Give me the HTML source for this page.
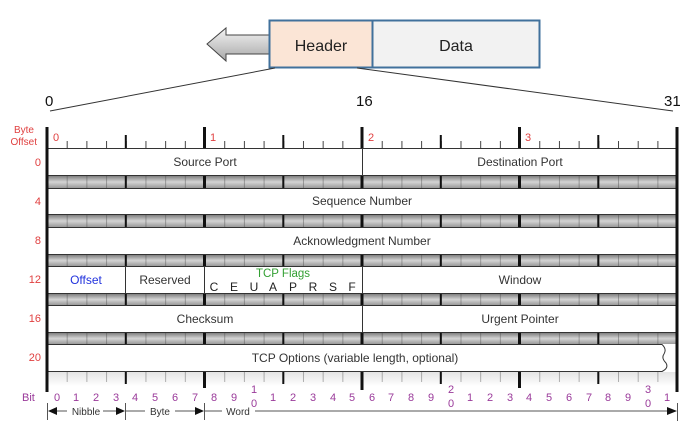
<!DOCTYPE html>
<html><head><meta charset="utf-8"><style>
html,body{margin:0;padding:0;background:#fff;}
svg{display:block;}
text{font-family:"Liberation Sans",sans-serif;}
</style></head><body>
<svg width="695" height="439" viewBox="0 0 695 439" xmlns="http://www.w3.org/2000/svg">
<defs>
<linearGradient id="band" x1="0" y1="0" x2="0" y2="1">
<stop offset="0" stop-color="#808080"/><stop offset="0.5" stop-color="#d4d4d4"/><stop offset="1" stop-color="#9a9a9a"/>
</linearGradient>
<linearGradient id="arr" x1="0" y1="0" x2="0" y2="1">
<stop offset="0" stop-color="#f4f4f4"/><stop offset="1" stop-color="#a8a8a8"/>
</linearGradient>
<linearGradient id="bot" x1="0" y1="0" x2="0" y2="1">
<stop offset="0" stop-color="#e4e4e4"/><stop offset="1" stop-color="#ffffff"/>
</linearGradient>
<pattern id="tk" x="47" y="0" width="19.69" height="20" patternUnits="userSpaceOnUse">
<rect x="0" y="0" width="1" height="20" fill="#444"/>
</pattern>
</defs>

<path d="M207,44 L226,28 L226,35 L270,35 L270,54 L226,54 L226,61 Z" fill="url(#arr)" stroke="#444" stroke-width="1"/>
<rect x="269.5" y="20.5" width="103" height="47" fill="#fbe5d6" stroke="#41719c" stroke-width="2"/>
<rect x="372.5" y="20.5" width="167" height="47" fill="#f2f2f2" stroke="#41719c" stroke-width="2"/>
<text x="321" y="51" font-size="16" text-anchor="middle" fill="#222">Header</text>
<text x="456" y="51" font-size="16" text-anchor="middle" fill="#222">Data</text>
<line x1="275" y1="68" x2="50" y2="111" stroke="#333" stroke-width="1"/>
<line x1="357" y1="68" x2="673" y2="111" stroke="#333" stroke-width="1"/>
<text x="45" y="106" font-size="15" fill="#111">0</text>
<text x="356" y="106" font-size="15" fill="#111">16</text>
<text x="664" y="106" font-size="15" fill="#111">31</text>

<text x="34" y="133" font-size="10" fill="#e04040" text-anchor="end">Byte</text>
<text x="37" y="145" font-size="10" fill="#e04040" text-anchor="end">Offset</text>
<g font-size="11" fill="#e04040" text-anchor="end">
<text x="41" y="166">0</text><text x="41" y="205">4</text><text x="41" y="244">8</text>
<text x="41" y="283">12</text><text x="41" y="322">16</text><text x="41" y="361">20</text>
</g>

<rect x="47" y="141" width="630" height="7" fill="url(#tk)"/>
<g fill="#111">
<rect x="124.8" y="135" width="2" height="13"/><rect x="282.3" y="135" width="2" height="13"/>
<rect x="439.8" y="135" width="2" height="13"/><rect x="597.3" y="135" width="2" height="13"/>
<rect x="203" y="127" width="3" height="21"/><rect x="360.5" y="127" width="3" height="21"/>
<rect x="518" y="127" width="3" height="21"/>
</g>
<g font-size="11" fill="#e04040">
<text x="53" y="141">0</text><text x="210" y="141">1</text><text x="368" y="141">2</text><text x="525" y="141">3</text>
</g>

<g>
<rect x="47" y="176" width="630" height="12" fill="url(#band)"/>
<rect x="47" y="215" width="630" height="12" fill="url(#band)"/>
<rect x="47" y="255" width="630" height="11" fill="url(#band)"/>
<rect x="47" y="294" width="630" height="11" fill="url(#band)"/>
<rect x="47" y="333" width="630" height="11" fill="url(#band)"/>
<rect x="47" y="372" width="630" height="14" fill="url(#bot)"/>
</g>
<g opacity="0.4">
<rect x="47" y="176" width="630" height="12" fill="url(#tk)"/>
<rect x="47" y="215" width="630" height="12" fill="url(#tk)"/>
<rect x="47" y="255" width="630" height="11" fill="url(#tk)"/>
<rect x="47" y="294" width="630" height="11" fill="url(#tk)"/>
<rect x="47" y="333" width="630" height="11" fill="url(#tk)"/>
<rect x="47" y="372" width="630" height="10" fill="url(#tk)"/>
</g>
<g fill="#111">
<path d="M124.8,176h2v12h-2zM282.3,176h2v12h-2zM439.8,176h2v12h-2zM597.3,176h2v12h-2z"/>
<path d="M124.8,215h2v12h-2zM282.3,215h2v12h-2zM439.8,215h2v12h-2zM597.3,215h2v12h-2z"/>
<path d="M124.8,255h2v11h-2zM282.3,255h2v11h-2zM439.8,255h2v11h-2zM597.3,255h2v11h-2z"/>
<path d="M124.8,294h2v11h-2zM282.3,294h2v11h-2zM439.8,294h2v11h-2zM597.3,294h2v11h-2z"/>
<path d="M124.8,333h2v11h-2zM282.3,333h2v11h-2zM439.8,333h2v11h-2zM597.3,333h2v11h-2z"/>
<path d="M124.8,372h2v12h-2zM282.3,372h2v12h-2zM439.8,372h2v12h-2zM597.3,372h2v12h-2z"/>
<path d="M203,176h3v12h-3zM360.5,176h3v12h-3zM518,176h3v12h-3z"/>
<path d="M203,215h3v12h-3zM360.5,215h3v12h-3zM518,215h3v12h-3z"/>
<path d="M203,255h3v11h-3zM360.5,255h3v11h-3zM518,255h3v11h-3z"/>
<path d="M203,294h3v11h-3zM360.5,294h3v11h-3zM518,294h3v11h-3z"/>
<path d="M203,333h3v11h-3zM360.5,333h3v11h-3zM518,333h3v11h-3z"/>
<path d="M203,372h3v16h-3zM360.5,372h3v18h-3zM518,372h3v16h-3z"/>
</g>

<g fill="#fff" stroke="#333" stroke-width="1">
<rect x="47.5" y="148.5" width="629" height="27"/>
<rect x="47.5" y="188.5" width="629" height="26"/>
<rect x="47.5" y="227.5" width="629" height="27"/>
<rect x="47.5" y="266.5" width="629" height="27"/>
<rect x="47.5" y="305.5" width="629" height="27"/>
<path d="M47.5,344.5 H662 Q667,349 664,354 Q661,358 666,363 Q669,368 662,371.5 H47.5 Z"/>
</g>
<g stroke="#333" stroke-width="1">
<line x1="362.5" y1="148" x2="362.5" y2="176"/>
<line x1="125.5" y1="266" x2="125.5" y2="294"/>
<line x1="204.5" y1="266" x2="204.5" y2="294"/>
<line x1="362.5" y1="266" x2="362.5" y2="294"/>
<line x1="362.5" y1="305" x2="362.5" y2="333"/>
</g>
<g font-size="12" fill="#333" text-anchor="middle">
<text x="205" y="166">Source Port</text>
<text x="520" y="166">Destination Port</text>
<text x="362" y="205">Sequence Number</text>
<text x="362" y="245">Acknowledgment Number</text>
<text x="86" y="284" fill="#2233dd">Offset</text>
<text x="165" y="284">Reserved</text>
<text x="283" y="277" font-size="11.5" fill="#33a033">TCP Flags</text>
<text x="520" y="284">Window</text>
<text x="205" y="323">Checksum</text>
<text x="520" y="323">Urgent Pointer</text>
<text x="355" y="362">TCP Options (variable length, optional)</text>
</g>
<g font-size="12" fill="#222" text-anchor="middle">
<text x="214" y="291">C</text><text x="234" y="291">E</text><text x="254" y="291">U</text><text x="273" y="291">A</text>
<text x="293" y="291">P</text><text x="313" y="291">R</text><text x="333" y="291">S</text><text x="352" y="291">F</text>
</g>

<rect x="45.5" y="127" width="3" height="265" fill="#111"/>
<rect x="675.5" y="127" width="3" height="265" fill="#111"/>

<text x="22" y="401" font-size="11" fill="#9a3a9a">Bit</text>
<g font-size="11" fill="#9a3a9a" text-anchor="middle">
<text x="57" y="401">0</text><text x="76" y="401">1</text><text x="96" y="401">2</text><text x="116" y="401">3</text>
<text x="135" y="401">4</text><text x="155" y="401">5</text><text x="175" y="401">6</text><text x="195" y="401">7</text>
<text x="214" y="401">8</text><text x="234" y="401">9</text><text x="254" y="393">1</text><text x="254" y="407">0</text>
<text x="273" y="401">1</text><text x="293" y="401">2</text><text x="313" y="401">3</text><text x="333" y="401">4</text>
<text x="352" y="401">5</text><text x="372" y="401">6</text><text x="391" y="401">7</text><text x="411" y="401">8</text>
<text x="431" y="401">9</text><text x="451" y="393">2</text><text x="451" y="407">0</text><text x="470" y="401">1</text>
<text x="490" y="401">2</text><text x="510" y="401">3</text><text x="529" y="401">4</text><text x="549" y="401">5</text>
<text x="569" y="401">6</text><text x="589" y="401">7</text><text x="608" y="401">8</text><text x="628" y="401">9</text>
<text x="648" y="393">3</text><text x="648" y="407">0</text><text x="667" y="401">1</text>
</g>

<g stroke="#555" stroke-width="1" fill="none">
<line x1="47.5" y1="403" x2="47.5" y2="420"/>
<line x1="125.5" y1="403" x2="125.5" y2="420"/>
<line x1="204.5" y1="403" x2="204.5" y2="420"/>
<line x1="677.5" y1="403" x2="677.5" y2="421"/>
<line x1="55" y1="411" x2="67" y2="411"/>
<line x1="103" y1="411" x2="118" y2="411"/>
<line x1="126" y1="411" x2="145" y2="411"/>
<line x1="175" y1="411" x2="198" y2="411"/>
<line x1="205" y1="411" x2="222" y2="411"/>
<line x1="255" y1="411" x2="670" y2="411"/>
</g>
<g fill="#111">
<path d="M48,411 L57,407 L57,415 Z"/>
<path d="M125,411 L116,407 L116,415 Z"/>
<path d="M204,411 L195,407 L195,415 Z"/>
<path d="M677,411 L667,407 L667,415 Z"/>
</g>
<g font-size="10" fill="#333" text-anchor="middle">
<text x="86" y="415">Nibble</text><text x="160" y="415">Byte</text><text x="238" y="415">Word</text>
</g>
</svg>
</body></html>
